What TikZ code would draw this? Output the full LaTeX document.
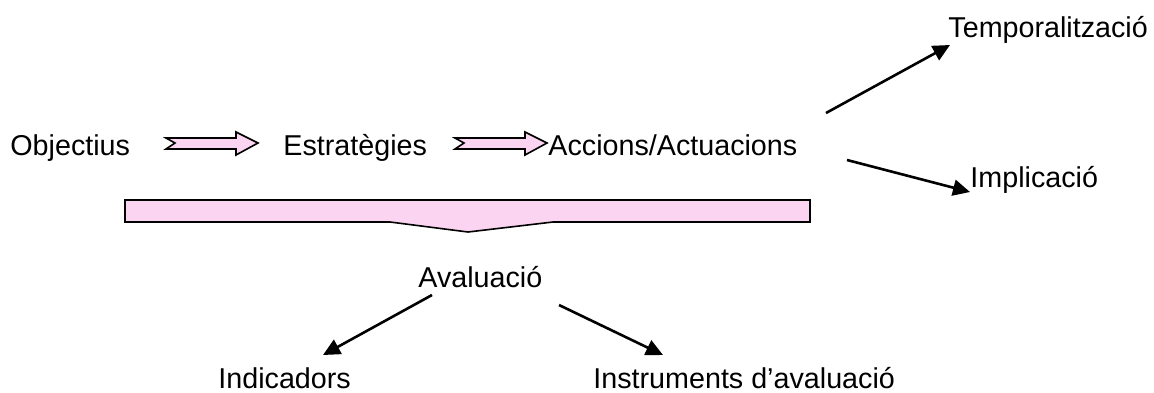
\documentclass[tikz,border=0pt]{standalone}
\usepackage{fontspec}
\setmainfont{Liberation Sans}
\usetikzlibrary{arrows.meta,calc}
\definecolor{blockpink}{RGB}{250,212,240}
\def\notch{9}
\def\headlen{22}

\begin{document}
\begin{tikzpicture}[x=0.5pt,y=-0.5pt,
            label/.style={%
                inner sep=0pt, anchor=base west,%
                font=\fontsize{14.35}{17}\selectfont%
            },
            blockarrow/.style={%
                draw=black, line width=0.8pt, fill=blockpink, line join=miter%
            },
            arrow/.style={line width=1.3pt,-{Triangle[length=8.5pt,width=8pt]}}
        ]
        \useasboundingbox (0,0) rectangle (1154,392);

        % Define nodes
        \node (obj) [label] at (10,155) {Objectius};
        \node (estr) [label] at (283,155) {Estratègies};
        \node (acc) [label] at (548,155) {Accions/Actuacions};
        \node (temp) [label] at (948,37) {Temporalització};
        \node (impl) [label] at (970,187) {Implicació};
        \node (aval) [label] at (418,287) {Avaluació};
        \node (ind) [label] at (218,388) {Indicadors};
        \node (inst) [label] at (593,388) {Instruments d’avaluació};

        % block arrows between the steps
        \coordinate (b1) at (166,143);
        \coordinate (b2) at (455,143);
        \foreach \b in {b1,b2} {
            \draw [blockarrow]
                (\b) ++(\notch,0) -- ++(-\notch,-5) -- ++(70,0) -- ++(0,-6)
                -- ++(\headlen,11) -- ++(-\headlen,12) -- ++(0,-6)
                -- ++(-70,0) -- cycle;
        }

        % brace under the steps
        \draw [blockarrow]
            (125,200) -- (810,200) -- (810,222) -- (553,222)
            -- (468,232) coordinate (bracetip) -- (390,222) -- (125,222) -- cycle;

        % Connectors
        \coordinate (accup) at (826,113);
        \coordinate (accdown) at (847,160);
        \coordinate (temptip) at (950,45);
        \coordinate (impltip) at (970,192);
        \coordinate (avalleft) at (432,295);
        \coordinate (avalright) at (559,305);
        \coordinate (indtip) at (323,355);
        \coordinate (insttip) at (663,355);
        \draw [arrow] (accup) -- (temptip);
        \draw [arrow] (accdown) -- (impltip);
        \draw [arrow] (avalleft) -- (indtip);
        \draw [arrow] (avalright) -- (insttip);

\end{tikzpicture}
\end{document}
